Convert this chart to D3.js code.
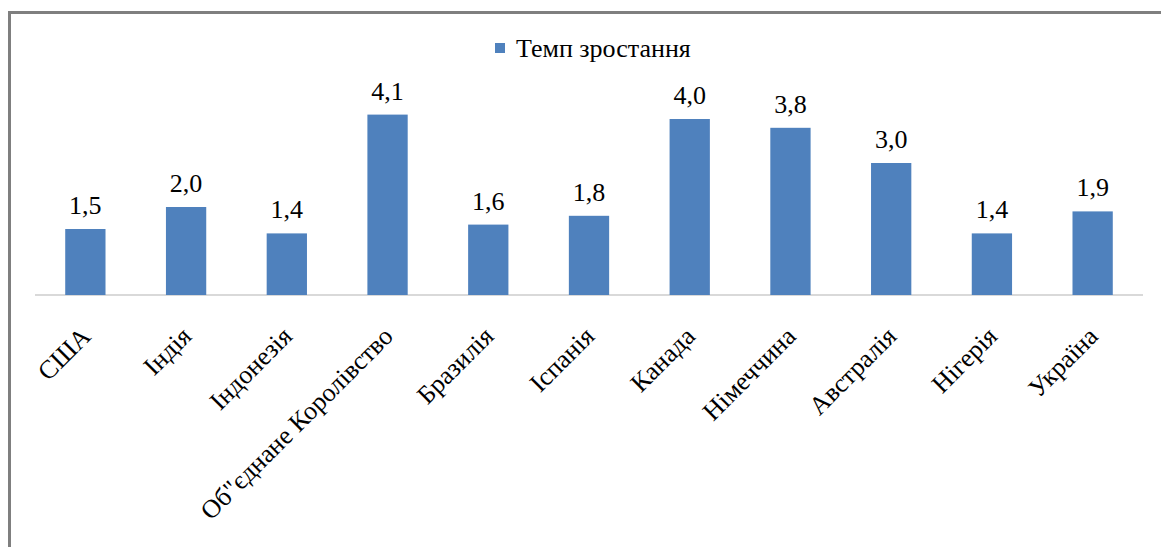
<!DOCTYPE html>
<html><head><meta charset="utf-8">
<script src="https://cdn.jsdelivr.net/npm/d3@7/dist/d3.min.js"></script>
<style>body{margin:0;background:#fff}svg{display:block}
text{font-family:"Liberation Serif","DejaVu Serif",serif;}</style>
</head><body>
<script>
const categories = ["США","Індія","Індонезія","Об\"єднане Королівство","Бразилія","Іспанія","Канада","Німеччина","Австралія","Нігерія","Україна"];
const values = [1.5,2.0,1.4,4.1,1.6,1.8,4.0,3.8,3.0,1.4,1.9];
const seriesName = "Темп зростання";

const W=1161,H=547;
const svg=d3.select("body").append("svg").attr("width",W).attr("height",H);
svg.append("rect").attr("width",W).attr("height",H).attr("fill","#fff");
svg.append("path").attr("d","M9.5,547 V12.5 H1161").attr("fill","none").attr("stroke","#7f7f7f").attr("stroke-width",3);

const x=d3.scaleBand().domain(categories).range([35,1143]).paddingInner(0.6).paddingOuter(0.3);
const y=d3.scaleLinear().domain([0,4.1]).range([295,295-4.1*44]);

svg.append("line").attr("x1",35).attr("x2",1143).attr("y1",295).attr("y2",295).attr("stroke","#d9d9d9").attr("stroke-width",2);

svg.selectAll("rect.bar").data(values).enter().append("rect").attr("class","bar")
 .attr("x",(d,i)=>x(categories[i])).attr("width",x.bandwidth())
 .attr("y",d=>y(d)).attr("height",d=>y(0)-y(d)).attr("fill","#4f81bd");

svg.selectAll("text.val").data(values).enter().append("text").attr("class","val")
 .attr("x",(d,i)=>x(categories[i])+x.bandwidth()/2).attr("y",d=>y(d)-15)
 .attr("text-anchor","middle").attr("font-size",26).attr("fill","#000")
 .text(d=>d.toFixed(1).replace(".",","));

svg.selectAll("text.cat").data(categories).enter().append("text").attr("class","cat")
 .attr("transform",d=>`translate(${x(d)+x.bandwidth()/2-6},${325}) rotate(-45)`)
 .attr("text-anchor","end").attr("font-size",26).attr("fill","#000")
 .attr("dy","0.7em").text(d=>d);

const lg=svg.append("g");
lg.append("rect").attr("x",495).attr("y",43).attr("width",10).attr("height",10).attr("fill","#4f81bd");
lg.append("text").attr("x",516).attr("y",57).attr("font-size",26).attr("fill","#000").text(seriesName);
</script>
</body></html>
